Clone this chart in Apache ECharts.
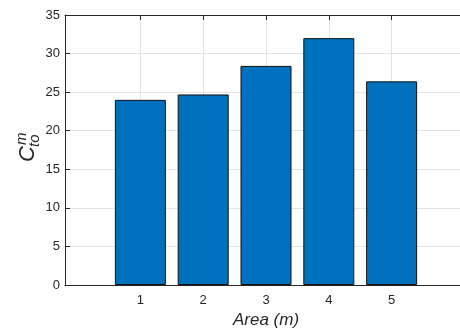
<!DOCTYPE html>
<html><head><meta charset="utf-8">
<script src="https://cdn.jsdelivr.net/npm/echarts@6/dist/echarts.min.js"></script>
<style>html,body{margin:0;padding:0;background:#fff}#c{width:460px;height:331px}</style>
</head><body><div id="c"></div>
<script>
const categories = [1, 2, 3, 4, 5];
const values = [24.0, 24.7, 28.4, 32.0, 26.4];
const yTicks = [0, 5, 10, 15, 20, 25, 30, 35];

const chart = echarts.init(document.getElementById('c'), null, {renderer: 'canvas'});
const axisColor = '#262626';
const font = 'Liberation Sans, Arial, Helvetica, sans-serif';
const xCommon = {
  type: 'value', min: -0.2, max: 6.2,
  axisLine: {show: true, onZero: false, lineStyle: {color: axisColor, width: 1}},
  axisTick: {show: true, inside: true, length: 5, customValues: categories, lineStyle: {color: axisColor}},
  splitLine: {show: false}
};
chart.setOption({
  animation: false,
  grid: {left: 65, top: 15, right: -7, bottom: 46, outerBoundsMode: 'none', containLabel: false},
  xAxis: [
    Object.assign({}, xCommon, {
      position: 'bottom',
      axisLabel: {show: true, customValues: categories, color: axisColor, fontSize: 13, fontFamily: font, margin: 9},
      name: 'Area (m)', nameLocation: 'middle', nameGap: 27,
      nameTextStyle: {fontSize: 17, fontStyle: 'italic', color: axisColor, fontFamily: font}
    }),
    Object.assign({}, xCommon, {
      position: 'top',
      axisLabel: {show: false},
      splitLine: {show: true, lineStyle: {color: '#e3e3e3', width: 1}}
    })
  ],
  yAxis: {
    type: 'value', min: 0, max: 35, interval: 5,
    axisLine: {show: true, onZero: false, lineStyle: {color: axisColor, width: 1}},
    axisTick: {show: true, inside: true, length: 5, lineStyle: {color: axisColor}},
    axisLabel: {color: axisColor, fontSize: 13, fontFamily: font, margin: 5},
    splitLine: {show: true, lineStyle: {color: '#e3e3e3', width: 1}}
  },
  graphic: [{
    type: 'group', x: 28, y: 162, rotation: Math.PI / 2,
    children: [
      {type: 'text', x: 0, y: 0, style: {text: 'C', font: 'italic 22px ' + font, fill: axisColor, align: 'left', verticalAlign: 'middle'}},
      {type: 'text', x: 17, y: -6, style: {text: 'm', font: 'italic 15px ' + font, fill: axisColor, align: 'left', verticalAlign: 'middle'}},
      {type: 'text', x: 15, y: 7, style: {text: 'to', font: 'italic 15px ' + font, fill: axisColor, align: 'left', verticalAlign: 'middle'}}
    ]
  }],
  series: [{
    type: 'bar',
    xAxisIndex: 0,
    barWidth: 51,
    data: categories.map((c, i) => [c, values[i]]),
    itemStyle: {color: '#0072BD', borderColor: '#111', borderWidth: 1},
    z: 3
  }]
});
</script></body></html>
